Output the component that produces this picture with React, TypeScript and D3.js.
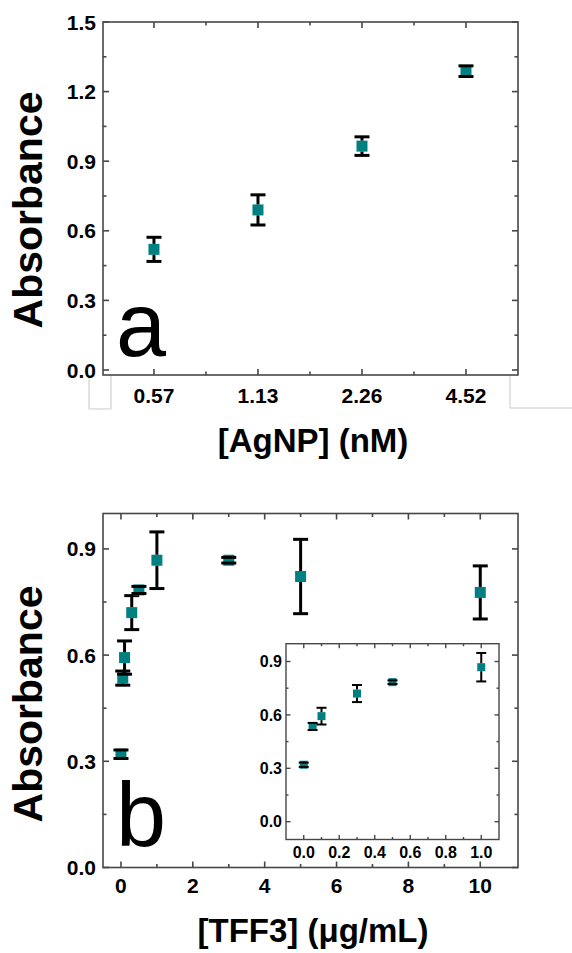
import React from "react";
import * as d3 from "d3";

// ---- Panel a data ----
const agnpCats = ["0.57", "1.13", "2.26", "4.52"];
const agnpAbs = [0.52, 0.69, 0.965, 1.288];
const agnpErr = [0.052, 0.065, 0.04, 0.023];
const yTicksA = [0, 0.3, 0.6, 0.9, 1.2, 1.5];
const yMinorA = [0.15, 0.45, 0.75, 1.05, 1.35];

// ---- Panel b data ----
const tffConc = [0, 0.05, 0.1, 0.3, 0.5, 1, 3, 5, 10];
const tffAbs = [0.32, 0.535, 0.593, 0.72, 0.784, 0.868, 0.868, 0.822, 0.777];
const tffErr = [0.012, 0.02, 0.047, 0.048, 0.01, 0.08, 0.008, 0.105, 0.075];
const xTicksB = [0, 2, 4, 6, 8, 10];
const xMinorB = [1, 3, 5, 7, 9];
const yTicksB = [0, 0.3, 0.6, 0.9];
const yMinorB = [0.15, 0.45, 0.75];

// ---- Inset ----
const xTicksI = [0, 0.2, 0.4, 0.6, 0.8, 1.0];
const xMinorI = [0.1, 0.3, 0.5, 0.7, 0.9];
const yTicksI = [0, 0.3, 0.6, 0.9];
const yMinorI = [0.15, 0.45, 0.75];

const TEAL = "#008080";
const FRAME = "#474747";
const FONT = "'Liberation Sans', Arial, sans-serif";

type Pt = { x: number; y: number; e: number };

function ErrPoint({ px, py, pTop, pBot, size, cap, sw }: { px: number; py: number; pTop: number; pBot: number; size: number; cap: number; sw: number }) {
  const h = size / 2;
  return (
    <g>
      <rect x={px - h} y={py - h} width={size} height={size} fill={TEAL} />
      {pTop < py - h && <line x1={px} x2={px} y1={pTop} y2={py - h} stroke="#000" strokeWidth={sw} />}
      {pBot > py + h && <line x1={px} x2={px} y1={py + h} y2={pBot} stroke="#000" strokeWidth={sw} />}
      <line x1={px - cap / 2} x2={px + cap / 2} y1={pTop} y2={pTop} stroke="#000" strokeWidth={sw} />
      <line x1={px - cap / 2} x2={px + cap / 2} y1={pBot} y2={pBot} stroke="#000" strokeWidth={sw} />
    </g>
  );
}

function Frame({ x, y, minorX, minorY, majorX, majorY, maj, min, sw }: any) {
  const [x0, x1] = x.range();
  const [y0, y1] = y.range();
  const els: any[] = [];
  majorX.forEach((v: number, i: number) => {
    const p = x(v);
    els.push(<line key={"mxb" + i} x1={p} x2={p} y1={y0} y2={y0 - maj} stroke={FRAME} strokeWidth={sw} />);
    els.push(<line key={"mxt" + i} x1={p} x2={p} y1={y1} y2={y1 + maj} stroke={FRAME} strokeWidth={sw} />);
  });
  minorX.forEach((v: number, i: number) => {
    const p = x(v);
    els.push(<line key={"nxb" + i} x1={p} x2={p} y1={y0} y2={y0 - min} stroke={FRAME} strokeWidth={sw} />);
    els.push(<line key={"nxt" + i} x1={p} x2={p} y1={y1} y2={y1 + min} stroke={FRAME} strokeWidth={sw} />);
  });
  majorY.forEach((v: number, i: number) => {
    const p = y(v);
    els.push(<line key={"myl" + i} x1={x0} x2={x0 + maj} y1={p} y2={p} stroke={FRAME} strokeWidth={sw} />);
    els.push(<line key={"myr" + i} x1={x1} x2={x1 - maj} y1={p} y2={p} stroke={FRAME} strokeWidth={sw} />);
  });
  minorY.forEach((v: number, i: number) => {
    const p = y(v);
    els.push(<line key={"nyl" + i} x1={x0} x2={x0 + min} y1={p} y2={p} stroke={FRAME} strokeWidth={sw} />);
    els.push(<line key={"nyr" + i} x1={x1} x2={x1 - min} y1={p} y2={p} stroke={FRAME} strokeWidth={sw} />);
  });
  return (
    <g>
      <rect x={x0} y={y1} width={x1 - x0} height={y0 - y1} fill="none" stroke={FRAME} strokeWidth={sw} />
      {els}
    </g>
  );
}

export default function App() {
  // Panel a scales
  const xA = d3.scaleLinear().domain([-0.49, 3.5]).range([103, 518]);
  const yA = d3.scaleLinear().domain([-0.0216, 1.5]).range([375, 22]);
  // Panel b scales
  const xB = d3.scaleLinear().domain([-0.5, 11.05]).range([103, 518]);
  const yB = d3.scaleLinear().domain([0, 1.0]).range([867.5, 513.5]);
  // Inset scales
  const xI = d3.scaleLinear().domain([-0.1, 1.1]).range([286, 499]);
  const yI = d3.scaleLinear().domain([-0.1, 1.0]).range([839.5, 643.7]);

  const ptsA: Pt[] = agnpAbs.map((v, i) => ({ x: i, y: v, e: agnpErr[i] }));
  const ptsB: Pt[] = tffAbs.map((v, i) => ({ x: tffConc[i], y: v, e: tffErr[i] }));
  const ptsI = ptsB.filter((p) => p.x <= 1);

  const fmt = d3.format(".1f");

  return (
    <svg width={572} height={953} style={{ position: "absolute", left: 0, top: 0, background: "#fff" }} fontFamily={FONT}>
      <rect x={0} y={0} width={572} height={953} fill="#fff" />

      {/* ===== Panel a ===== */}
      <path d="M89,375 V409 H111 V375" fill="none" stroke="#c8c8c8" strokeWidth={1} />
      <path d="M510,375 V408 H574" fill="none" stroke="#c8c8c8" strokeWidth={1} />
      <Frame x={xA} y={yA} majorX={[0, 1, 2, 3]} minorX={[0.5, 1.5, 2.5]} majorY={yTicksA} minorY={yMinorA} maj={6} min={3.5} sw={1.6} />
      {yTicksA.map((t) => (
        <text key={"yta" + t} x={96} y={yA(t)} dy="0.36em" textAnchor="end" fontSize={21} fontWeight="bold">
          {fmt(t)}
        </text>
      ))}
      {agnpCats.map((c, i) => (
        <text key={"xta" + c} x={xA(i)} y={402.5} textAnchor="middle" fontSize={21} fontWeight="bold">
          {c}
        </text>
      ))}
      {ptsA.map((p, i) => (
        <ErrPoint key={"pa" + i} px={xA(p.x)} py={yA(p.y)} pTop={yA(p.y + p.e)} pBot={yA(p.y - p.e)} size={11} cap={15} sw={3} />
      ))}
      <text x={116} y={356} fontSize={90}>a</text>
      <text transform="translate(42,210) rotate(-90)" textAnchor="middle" fontSize={41} fontWeight="bold">
        Absorbance
      </text>
      <text x={313} y={452} textAnchor="middle" fontSize={33} fontWeight="bold">
        [AgNP] (nM)
      </text>

      {/* ===== Panel b ===== */}
      <Frame x={xB} y={yB} majorX={xTicksB} minorX={xMinorB} majorY={yTicksB} minorY={yMinorB} maj={6} min={3.5} sw={1.6} />
      {yTicksB.map((t) => (
        <text key={"ytb" + t} x={96} y={yB(t)} dy="0.36em" textAnchor="end" fontSize={21} fontWeight="bold">
          {fmt(t)}
        </text>
      ))}
      {xTicksB.map((t) => (
        <text key={"xtb" + t} x={xB(t)} y={892.5} textAnchor="middle" fontSize={21} fontWeight="bold">
          {t}
        </text>
      ))}
      {ptsB.map((p, i) => (
        <ErrPoint key={"pb" + i} px={xB(p.x)} py={yB(p.y)} pTop={yB(p.y + p.e)} pBot={yB(p.y - p.e)} size={11} cap={15} sw={3} />
      ))}
      <text x={116} y={846} fontSize={90}>b</text>
      <text transform="translate(42,704) rotate(-90)" textAnchor="middle" fontSize={41} fontWeight="bold">
        Absorbance
      </text>
      <text x={313} y={942} textAnchor="middle" fontSize={33} fontWeight="bold">
        [TFF3] (μg/mL)
      </text>

      {/* ===== Inset ===== */}
      <rect x={286} y={643.7} width={213} height={195.8} fill="#fff" />
      <Frame x={xI} y={yI} majorX={xTicksI} minorX={xMinorI} majorY={yTicksI} minorY={yMinorI} maj={4.5} min={2.5} sw={1.4} />
      {yTicksI.map((t) => (
        <text key={"yti" + t} x={282} y={yI(t)} dy="0.36em" textAnchor="end" fontSize={16} fontWeight="bold">
          {fmt(t)}
        </text>
      ))}
      {xTicksI.map((t) => (
        <text key={"xti" + t} x={xI(t)} y={857.5} textAnchor="middle" fontSize={16} fontWeight="bold">
          {fmt(t)}
        </text>
      ))}
      {ptsI.map((p, i) => (
        <ErrPoint key={"pi" + i} px={xI(p.x)} py={yI(p.y)} pTop={yI(p.y + p.e)} pBot={yI(p.y - p.e)} size={8} cap={10} sw={2} />
      ))}
    </svg>
  );
}
